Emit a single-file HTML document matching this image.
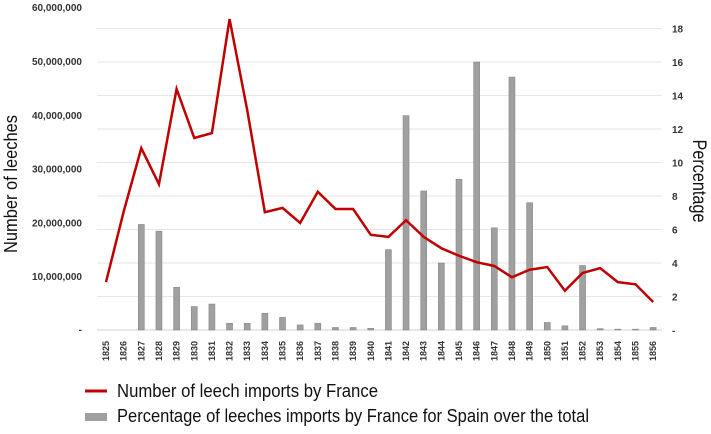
<!DOCTYPE html>
<html><head><meta charset="utf-8"><style>
body{margin:0;background:#fff;width:711px;height:429px;overflow:hidden;font-family:"Liberation Sans",sans-serif}
</style></head><body>
<svg id="c" width="711" height="429" xmlns="http://www.w3.org/2000/svg"></svg>
<script>
const years=["1825","1826","1827","1828","1829","1830","1831","1832","1833","1834","1835","1836","1837","1838","1839","1840","1841","1842","1843","1844","1845","1846","1847","1848","1849","1850","1851","1852","1853","1854","1855","1856"];
const imports=[8.9,22,33.8,27.1,44.8,35.7,36.6,57.8,40.9,21.9,22.7,19.9,25.7,22.5,22.5,17.7,17.3,20.4,17.3,15.2,13.8,12.6,11.9,9.8,11.2,11.7,7.3,10.6,11.5,8.9,8.5,5.2];
const pct=[0,0,6.3,5.9,2.55,1.4,1.55,0.4,0.4,1.0,0.75,0.3,0.4,0.15,0.15,0.1,4.8,12.8,8.3,4.0,9.0,16.0,6.1,15.1,7.6,0.45,0.25,3.85,0.08,0.05,0.05,0.15];
const leftTicks=["-","10,000,000","20,000,000","30,000,000","40,000,000","50,000,000","60,000,000"];
const rightTicks=["-","2","4","6","8","10","12","14","16","18"];
const svg=document.getElementById('c');const NS="http://www.w3.org/2000/svg";
function mk(t,a,p){const e=document.createElementNS(NS,t);for(const k in a)e.setAttribute(k,a[k]);(p||svg).appendChild(e);return e;}
const base=330;
const x=i=>106+i*17.65;
const yL=v=>base-v*5.38;
const yR=v=>base-v*16.75;
for(let i=1;i<rightTicks.length;i++){const g=mk('line',{x1:97,x2:662,y1:yR(i*2),y2:yR(i*2),stroke:'#e6e6e6','stroke-width':1});

}
const ax=mk('line',{x1:97,x2:662,y1:base,y2:base,stroke:'#d0d0d0'});


leftTicks.forEach((t,i)=>{const e=mk('text',{x:82,y:(i===0?base+3:yL(i*10)+4),'text-anchor':'end','font-size':10,'font-weight':'bold',fill:'#333'});
e.textContent=t;

});
rightTicks.forEach((t,i)=>{const e=mk('text',{x:672,y:yR(i*2)+4,'font-size':10,'font-weight':'bold',fill:'#333'});
e.textContent=t;

});
pct.forEach((v,i)=>{if(v<=0)return;const h=base-yR(v);const b=mk('rect',{x:x(i)-3,y:yR(v),width:6,height:h,fill:'#a0a0a0',stroke:'#888','stroke-width':0.6});

});
const pl=mk('polyline',{points:imports.map((v,i)=>x(i)+','+yL(v)).join(' '),fill:'none',stroke:'#c00000','stroke-width':2.5,'stroke-linejoin':'miter'});


years.forEach((t,i)=>{const e=mk('text',{transform:`translate(${x(i)+3},${361}) rotate(-90)`,'font-size':9,fill:'#333','font-weight':'bold'});
e.textContent=t;

});
const lt=mk('text',{transform:'translate(17,184) rotate(-90)','text-anchor':'middle','font-size':18,fill:'#111',textLength:138,lengthAdjust:'spacingAndGlyphs'});lt.textContent='Number of leeches';


const rt=mk('text',{transform:'translate(693,181) rotate(90)','text-anchor':'middle','font-size':19,fill:'#111',textLength:83,lengthAdjust:'spacingAndGlyphs'});rt.textContent='Percentage';


const l1=mk('line',{x1:85,x2:107,y1:391,y2:391,stroke:'#c00000','stroke-width':3});


const t1=mk('text',{x:117,y:397,'font-size':18,fill:'#111',textLength:261,lengthAdjust:'spacingAndGlyphs'});t1.textContent='Number of leech imports by France';


const l2=mk('rect',{x:85,y:413,width:22,height:8,fill:'#a0a0a0'});


const t2=mk('text',{x:117,y:422,'font-size':18,fill:'#111',textLength:472,lengthAdjust:'spacingAndGlyphs'});t2.textContent='Percentage of leeches imports by France for Spain over the total';


</script>
</body></html>
